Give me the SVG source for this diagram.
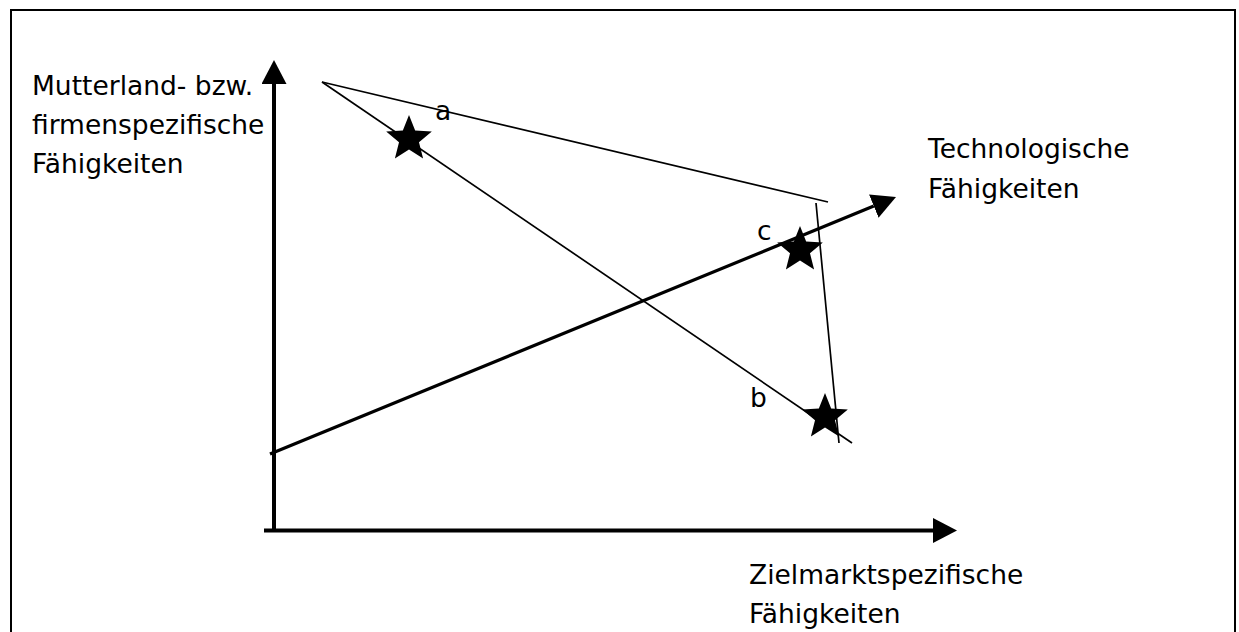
<svg xmlns="http://www.w3.org/2000/svg" width="1239" height="632" viewBox="0 0 1239 632">
<style>
text{font-family:"DejaVu Sans","Verdana",sans-serif;font-size:26.5px;fill:#000}
.axis{stroke:#000;stroke-width:4;fill:none}
.tech{stroke:#000;stroke-width:3.2;fill:none}
.thin{stroke:#000;stroke-width:1.7;fill:none}
.star{fill:#000}
</style>
<defs>
<marker id="ah" markerUnits="userSpaceOnUse" markerWidth="26" markerHeight="26" refX="0" refY="12.5" orient="auto">
<path d="M0,0 L24,12.5 L0,25 z" fill="#000"/>
</marker>
<path id="starShape" d="M0,-24 L6.17,-8.5 L22.83,-7.42 L9.98,3.24 L14.11,19.42 L0,10.5 L-14.11,19.42 L-9.98,3.24 L-22.83,-7.42 L-6.17,-8.5 Z"/>
</defs>
<rect x="11" y="10" width="1224" height="640" fill="#fff" stroke="#000" stroke-width="2"/>
<g id="connectors">
<line class="axis" x1="274" y1="532" x2="274" y2="84" marker-end="url(#ah)"/>
<line class="axis" x1="264" y1="530.5" x2="933" y2="530.5" marker-end="url(#ah)"/>
<line class="tech" x1="270" y1="454" x2="873.8" y2="206.1" marker-end="url(#ah)"/>
<line class="thin" x1="322" y1="82" x2="828" y2="202"/>
<line class="thin" x1="322" y1="82" x2="852" y2="443"/>
<line class="thin" x1="816" y1="203" x2="839" y2="443"/>
</g>
<g id="label-y-axis">
<text x="32" y="95">Mutterland- bzw.</text>
<text x="32" y="134">firmenspezifische</text>
<text x="32" y="173">Fähigkeiten</text>
</g>
<g id="label-tech-axis">
<text x="928" y="158">Technologische</text>
<text x="928" y="198">Fähigkeiten</text>
</g>
<g id="label-x-axis">
<text x="749" y="584">Zielmarktspezifische</text>
<text x="749" y="623">Fähigkeiten</text>
</g>
<g id="star-a">
<use href="#starShape" class="star" x="409" y="139"/>
<text x="435" y="120">a</text>
</g>
<g id="star-c">
<use href="#starShape" class="star" x="800" y="250"/>
<text x="757" y="240">c</text>
</g>
<g id="star-b">
<use href="#starShape" class="star" x="825" y="417"/>
<text x="750" y="407">b</text>
</g>
</svg>
